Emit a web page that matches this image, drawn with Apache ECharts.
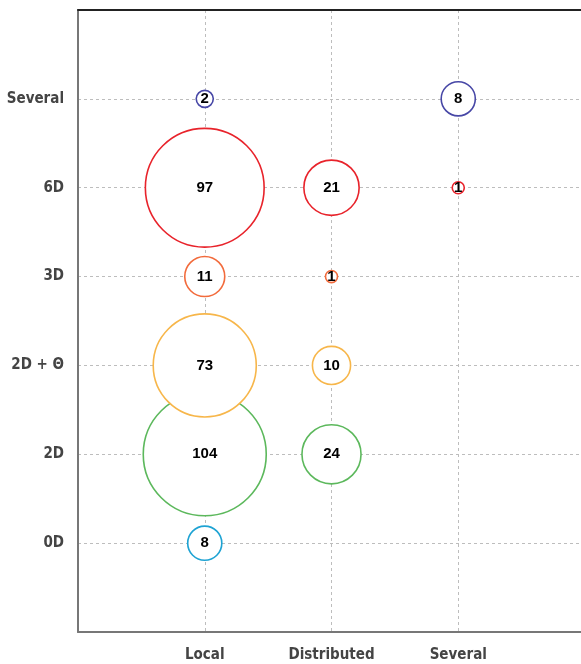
<!DOCTYPE html>
<html>
<head>
<meta charset="utf-8">
<script src="https://cdn.jsdelivr.net/npm/echarts@6/dist/echarts.min.js"></script>
<style>
html,body{margin:0;padding:0;background:#fff;}
#main{width:581px;height:664px;}
</style>
</head>
<body>
<div id="main"></div>
<script>
var xCats = ['Local', 'Distributed', 'Several'];
var yCats = ['0D', '2D', '2D + \u0398', '3D', '6D', 'Several'];
// counts per row, one value per x category (null = no bubble)
var row0D = [8, null, null];
var row2D = [104, 24, null];
var row2DT = [73, 10, null];
var row3D = [11, 1, null];
var row6D = [97, 21, 1];
var rowSev = [2, null, 8];
var rowColors = ['#1ea3d3', '#5cb85c', '#f7b64a', '#f26b3c', '#e8232b', '#4747a6'];

var rows = [row0D, row2D, row2DT, row3D, row6D, rowSev];
var font = '"Liberation Sans Narrow", "DejaVu Sans Condensed", "Liberation Sans", sans-serif';

var series = [];
for (var r = 0; r < rows.length; r++) {
	var data = [];
	for (var c = 0; c < rows[r].length; c++) {
		if (rows[r][c] != null) data.push([c, r, rows[r][c]]);
	}
	series.push({
		type: 'scatter',
		data: data,
		symbolSize: function (v) { return 12.06 * Math.sqrt(v[2]); },
		itemStyle: { color: '#fff', borderColor: rowColors[r], borderWidth: 1.6, opacity: 1 },
		label: {
			show: true,
			position: 'inside',
			formatter: function (p) { return p.value[2]; },
			color: '#000',
			fontWeight: 'bold',
			fontSize: 15,
			fontFamily: '"Liberation Sans", Arial, sans-serif'
		},
		emphasis: { disabled: true },
		z: 2 + r
	});
}

var myChart = echarts.init(document.getElementById('main'));
var gridLine = { show: true, lineStyle: { color: '#bdbdbd', type: [3, 3], width: 1 } };
var option = {
	animation: false,
	grid: { left: 78, top: 10, width: 507, height: 622, outerBoundsMode: 'none', containLabel: false },
	xAxis: [{
		type: 'value', min: -1, max: 3, interval: 1,
		axisLine: { show: true, onZero: false, lineStyle: { color: '#777', width: 2 } },
		axisTick: { show: false },
		splitLine: gridLine,
		axisLabel: {
			color: '#444', fontWeight: 'bold', fontSize: 15, fontFamily: font, margin: 16,
			formatter: function (v) { return xCats[v] || ''; }
		}
	}, {
		type: 'value', min: -1, max: 3, position: 'top',
		axisLine: { show: true, onZero: false, lineStyle: { color: '#222', width: 2 } },
		axisTick: { show: false }, axisLabel: { show: false }, splitLine: { show: false }
	}],
	yAxis: {
		type: 'value', min: -1, max: 6, interval: 1,
		axisLine: { show: true, onZero: false, lineStyle: { color: '#777', width: 2 } },
		axisTick: { show: false },
		splitLine: gridLine,
		axisLabel: {
			color: '#444', fontWeight: 'bold', fontSize: 15, fontFamily: font, margin: 14,
			formatter: function (v) { return yCats[v] || ''; }
		}
	},
	series: series
};
myChart.setOption(option);
</script>
</body>
</html>
